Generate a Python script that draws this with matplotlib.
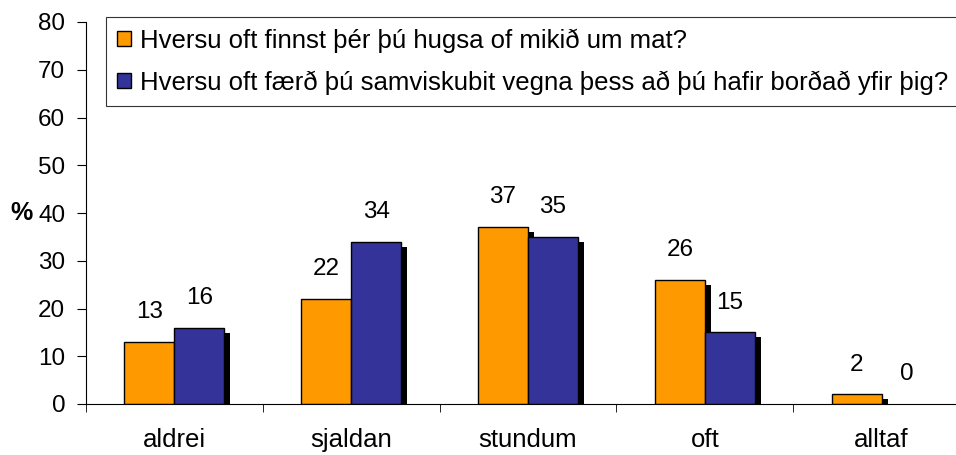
import matplotlib.pyplot as plt
import matplotlib.patheffects as pe
import numpy as np

plt.rcParams['font.family'] = ['Liberation Sans', 'DejaVu Sans']

categories = ['aldrei', 'sjaldan', 'stundum', 'oft', 'alltaf']
hugsa = [13, 22, 37, 26, 2]
samviskubit = [16, 34, 35, 15, 0]
labels = ['Hversu oft finnst þér þú hugsa of mikið um mat?',
          'Hversu oft færð þú samviskubit vegna þess að þú hafir borðað yfir þig?']
colors = ['#FF9900', '#333399']

fig = plt.figure(figsize=(9.56, 4.55), dpi=100)
ax = fig.add_axes([86 / 956, 51 / 455, 884 / 956, 382 / 455])

x = np.arange(len(categories))
w = 0.283
shadow = [pe.SimplePatchShadow(offset=(4.3, -3.6), shadow_rgbFace='black', alpha=1.0), pe.Normal()]

for i, (vals, c, lab) in enumerate(zip([hugsa, samviskubit], colors, labels)):
    pos = x + (i - 0.5) * w
    bars = ax.bar(pos, vals, w, color=c, edgecolor='black', linewidth=1, label=lab)
    for b, v in zip(bars, vals):
        if v > 0:
            b.set_path_effects(shadow)
        else:
            b.set_linewidth(0)
    for px, v in zip(pos, vals):
        ax.annotate(str(v), (px, v), xytext=(0, 21.5), textcoords='offset points',
                    ha='center', va='center', fontsize=17.5)

ax.set_xlim(-0.5, len(categories) - 0.5)
ax.set_ylim(0, 80)
ax.set_yticks(range(0, 81, 10))
ax.set_xticks(x)
ax.set_xticklabels(categories)
ax.set_xticks(np.arange(len(categories)) - 0.5, minor=True)
ax.tick_params(axis='x', which='major', length=0, pad=17.5, labelsize=18.5)
ax.tick_params(axis='x', which='minor', length=6, direction='out')
ax.tick_params(axis='y', length=6.5, direction='out', labelsize=17.5, pad=8.5)
ax.spines['top'].set_visible(False)
ax.spines['right'].set_visible(False)
ax.set_ylabel('%', rotation=0, fontsize=18, fontweight='bold', va='center', ha='center')
ax.yaxis.set_label_coords(-0.0735, 0.5)

leg = fig.legend(loc='upper left', bbox_to_anchor=(106 / 956, 1 - 17 / 455), fontsize=18.5,
                 frameon=True, fancybox=False, edgecolor='black', handlelength=0.55,
                 handleheight=0.55, handletextpad=0.35, borderpad=0.44, labelspacing=0.68,
                 borderaxespad=0)
leg.get_frame().set_linewidth(0.8)
for h in leg.legend_handles:
    h.set_path_effects([])
    h.set_linewidth(1)

fig.savefig('out.png', dpi=100)
